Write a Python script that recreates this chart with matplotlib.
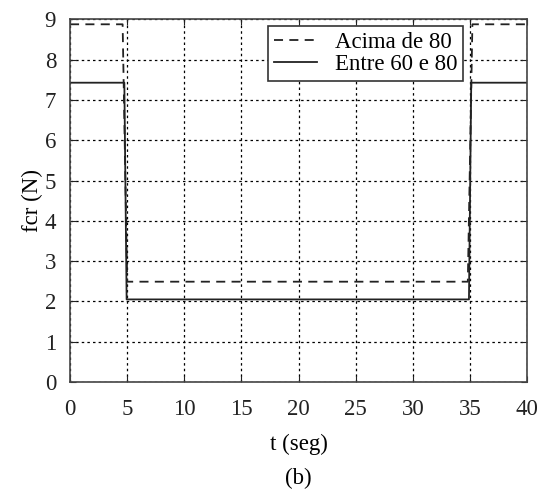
import matplotlib.pyplot as plt
import numpy as np

# dados (b)
t_acima = [0, 4.6, 5.0, 34.8, 35.2, 40]
fcr_acima = [8.88, 8.88, 2.49, 2.49, 8.88, 8.88]
t_entre = [0, 4.75, 4.95, 34.9, 35.1, 40]
fcr_entre = [7.43, 7.43, 2.05, 2.05, 7.43, 7.43]

xticks = np.arange(0, 41, 5)
yticks = np.arange(0, 10, 1)

plt.rcParams['font.family'] = ['Liberation Serif', 'DejaVu Serif']
plt.rcParams['font.size'] = 16.5

fig = plt.figure(figsize=(5.43, 4.99), dpi=100)
ax = fig.add_axes([0.129, 0.2345, 0.842, 0.7265])

ax.plot(t_acima, fcr_acima, color='#222222', linestyle=(0, (5, 3.5)), linewidth=1.3, label='Acima de 80')
ax.plot(t_entre, fcr_entre, color='#222222', linestyle='-', linewidth=1.3, label='Entre 60 e 80')

ax.set_xlim(0, 40)
ax.set_ylim(0, 9)
ax.set_xticks(xticks)
ax.set_yticks(yticks)
ax.grid(True, color='black', linestyle=(0, (2, 2.5)), linewidth=0.9)
ax.tick_params(direction='in', length=4, colors='#222222', labelcolor='#222222',
               top=True, right=True)
ax.tick_params(axis='x', pad=12)
ax.tick_params(axis='y', pad=10)
for s in ax.spines.values():
    s.set_color('#444444')
    s.set_linewidth(1.2)

ax.set_ylabel('fcr (N)', labelpad=1)
ax.set_xlabel('t (seg)', labelpad=10)
fig.text(0.549, 0.042, '(b)', ha='center', va='center', fontsize=16.5)

leg = ax.legend(loc='upper right', bbox_to_anchor=(0.859, 0.981), frameon=True, fancybox=False,
                edgecolor='#333333', framealpha=1, borderpad=0.25, labelspacing=0.05,
                handlelength=1.9, handletextpad=0.75, borderaxespad=0.0)
leg.get_frame().set_linewidth(1.2)

fig.savefig('out.png', dpi=100)
